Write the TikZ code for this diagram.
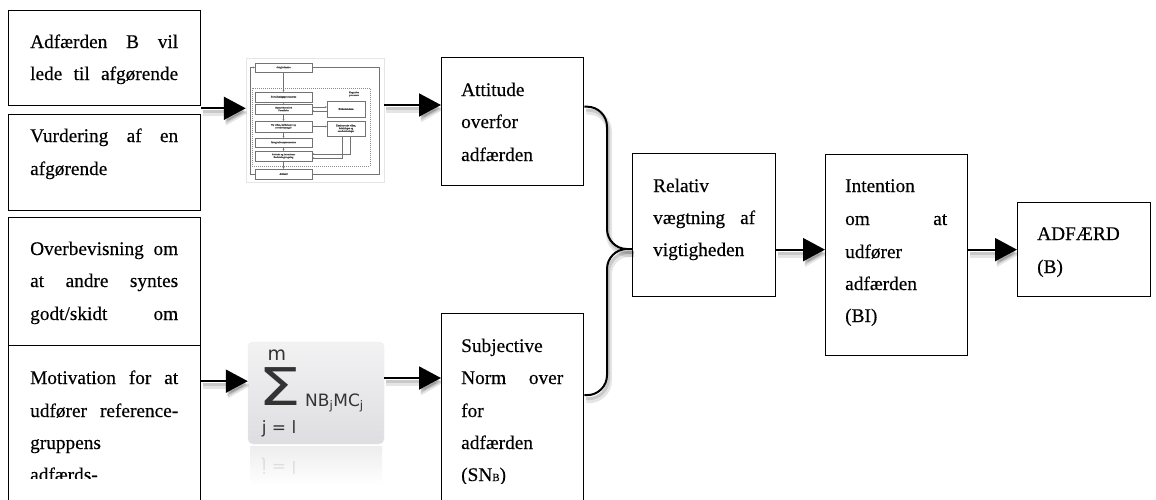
\documentclass[tikz,border=0pt]{standalone}
\usepackage{fontspec}
\setmainfont{Liberation Serif}[FakeBold=0.35]
\newfontfamily\sigmafont{DejaVu Sans}
\usetikzlibrary{arrows.meta,shadows}

\tikzset{
  box/.style={draw=black, line width=1.3pt, inner sep=0pt, anchor=north west},
  txt/.style={anchor=base west, inner sep=0pt, font=\fontsize{19.3}{23}\selectfont},
  conn/.style={line width=2pt,
    preaction={draw=black, opacity=.10, line width=6pt, transform canvas={shift={(2pt,-5pt)}}},
    preaction={draw=black, opacity=.12, line width=3pt, transform canvas={shift={(1.5pt,-3.5pt)}}}},
  arr/.style={conn, -{Triangle[length=22pt,width=23pt]}},
  fb/.style={draw=black!55, line width=.4pt, fill=white, inner sep=0pt, align=center,
    font=\fontsize{2.4}{2.8}\selectfont\bfseries, text=black!70,
    drop shadow={shadow xshift=.8pt, shadow yshift=-.8pt, opacity=.25}},
  fl/.style={draw=black!55, line width=.4pt},
  fa/.style={fl, -{Stealth[length=1.6pt,width=1.6pt]}},
  sg/.style={inner sep=0pt, text=black!80},
}
\newcommand{\jl}[2]{\makebox[#1pt][s]{#2}}

\begin{document}
\begin{tikzpicture}[x=1pt, y=-1pt]
\useasboundingbox (0,0) rectangle (1156,499);
\fill[white] (0,0) rectangle (1156,499);

% ---------- left column of belief boxes ----------
\node[box, minimum width=192pt, minimum height=95pt]  (b1) at (8,10) {};
\node[box, minimum width=192pt, minimum height=96pt]  (b2) at (8,114) {};
\node[box, minimum width=192pt, minimum height=128pt] (b3) at (8,217) {};
\node[box, minimum width=192pt, minimum height=170pt] (b4) at (8,345) {};

\node[txt] (b1l1) at (30,48)  {\jl{148}{Adfærden B vil}};
\node[txt] (b1l2) at (30,80)  {\jl{148}{lede til afgørende}};
\node[txt] (b2l1) at (30,142) {\jl{148}{Vurdering af en}};
\node[txt] (b2l2) at (30,175) {afgørende};
\node[txt] (b3l1) at (30,255) {\jl{148}{Overbevisning om}};
\node[txt] (b3l2) at (30,287) {\jl{148}{at andre syntes}};
\node[txt] (b3l3) at (30,320) {\jl{148}{godt/skidt om}};
\node[txt] (b4l1) at (30,384) {\jl{148}{Motivation for at}};
\node[txt] (b4l2) at (30,417) {\jl{148}{udfører reference-}};
\node[txt] (b4l3) at (30,449) {gruppens};
\begin{scope}
  \clip (10,440) rectangle (198,478);
  \node[txt] (b4l4) at (30,481) {adfærds-};
\end{scope}

% ---------- small process flowchart ----------
\node[draw=black!10, line width=.5pt, fill=white, minimum width=138pt, minimum height=124pt, inner sep=0pt] (flow) at (315,120) {};
\node[draw=black!45, dash pattern=on 1pt off 1pt, line width=.35pt, minimum width=118pt, minimum height=78pt, inner sep=0pt] (kog) at (311,127) {};
\node[inner sep=0pt, align=center, font=\fontsize{2.4}{2.8}\selectfont\bfseries, text=black!70] (kogl) at (354,94) {Kognitive\\processer};

\node[fb, minimum width=57pt, minimum height=9pt]  (f0) at (283.5,67.5) {Omgivelserne};
\node[fb, minimum width=57pt, minimum height=10pt] (f1) at (283.5,97)   {Fortolkningsprocesserne};
\node[fb, minimum width=57pt, minimum height=10pt] (f2) at (283.5,109)  {Opmærksomhed\\Forståelse};
\node[fb, minimum width=57pt, minimum height=11pt] (f3) at (283.5,126.5){Ny viden, holdninger og\\overbevisninger};
\node[fb, minimum width=57pt, minimum height=9pt]  (f4) at (283.5,142.5){Integrationsprocesserne};
\node[fb, minimum width=57pt, minimum height=10pt] (f5) at (283.5,156)  {Attitude og intentioner\\Beslutningstagning};
\node[fb, minimum width=57pt, minimum height=10pt] (f6) at (283.5,174)  {Adfærd};
\node[fb, minimum width=38pt, minimum height=16pt] (h1) at (346,109)    {Hukommelsen};
\node[fb, minimum width=38pt, minimum height=15pt] (h2) at (346,128.5)  {Eksisterende viden,\\holdninger og\\overbevisninger};

\draw[fa] (f0) -- (f1);
\draw[fa] (f1) -- (f2);
\draw[fa] (f2) -- (f3);
\draw[fa] (f3) -- (f4);
\draw[fa] (f4) -- (f5);
\draw[fa] (f5) -- (f6);
\draw[fa] ([yshift=2pt]f2.east) -- ([yshift=2pt]f2.east -| h1.west);
\draw[fa] ([yshift=-2pt]f2.east -| h1.west) -- ([yshift=-2pt]f2.east);
\draw[fa] (f3.east) -- (f3.east -| h2.west);
\draw[fa] ([xshift=-4pt]h2.south) |- ([yshift=-2pt]f5.east);
\draw[fa] ([xshift=4pt]h2.south) |- ([yshift=2pt]f5.east);
\coordinate (lr) at (379,67.5);
\coordinate (ll) at (250,67.5);
\draw[fl] (f6.east) -| (lr) -- (f0.east);
\draw[fa] (f6.west) -| (ll) -- (f0.west);

% ---------- summation picture ----------
\node[rounded corners=5pt, draw=black!8, top color=blue!5!black!5, bottom color=blue!12!black!13,
      minimum width=136pt, minimum height=102pt, inner sep=0pt] (sig) at (316,393) {};
\shade[top color=blue!5!black!7, bottom color=white] (250,446) rectangle (382,485);
\node[sg, xscale=1.3, font=\sigmafont\fontsize{52}{52}\selectfont] (sigma) at (280,387) {Σ};
\node[sg, font=\sigmafont\fontsize{19}{19}\selectfont] (supm) at (277,355) {m};
\node[sg, font=\sigmafont\fontsize{17}{17}\selectfont] (subj) at (279,429) {j = l};
\node[sg, yscale=-1, opacity=.12, font=\sigmafont\fontsize{17}{17}\selectfont] (subjr) at (279,466) {j = l};
\node[sg, anchor=west, font=\sigmafont\fontsize{17}{17}\selectfont] (nbmc) at (305,403) {NB\textsubscript{j}MC\textsubscript{j}};

% ---------- attitude and subjective norm ----------
\node[box, minimum width=142pt, minimum height=128pt] (att) at (441,57) {};
\node[box, minimum width=142pt, minimum height=200pt] (sn)  at (441,313) {};

\node[txt] (attl1) at (461,96)  {Attitude};
\node[txt] (attl2) at (461,128) {overfor};
\node[txt] (attl3) at (461,161) {adfærden};
\node[txt] (snl1)  at (461,352) {Subjective};
\node[txt] (snl2)  at (461,384) {\jl{102}{Norm over}};
\node[txt] (snl3)  at (461,417) {for};
\node[txt] (snl4)  at (461,449) {adfærden};
\begin{scope}
  \clip (443,460) rectangle (581,483);
  \node[txt] (snl5) at (461,481) {(SN{\fontsize{11}{11}\selectfont B})};
\end{scope}

% ---------- weighting, intention, behaviour ----------
\node[box, minimum width=143pt, minimum height=143pt] (rel) at (632,153) {};
\node[box, minimum width=142pt, minimum height=201pt] (int) at (825,154) {};
\node[box, minimum width=133pt, minimum height=94pt]  (adf) at (1017,202) {};

\node[txt] (rell1) at (653,192) {Relativ};
\node[txt] (rell2) at (653,224) {\jl{102}{vægtning af}};
\node[txt] (rell3) at (653,256) {vigtigheden};
\node[txt] (intl1) at (845,192) {Intention};
\node[txt] (intl2) at (845,225) {\jl{102}{om at}};
\node[txt] (intl3) at (845,258) {udfører};
\node[txt] (intl4) at (845,290) {adfærden};
\begin{scope}
  \clip (827,300) rectangle (965,325);
  \node[txt] (intl5) at (845,322) {(BI)};
\end{scope}
\node[txt] (adfl1) at (1037,240) {ADFÆRD};
\node[txt] (adfl2) at (1037,273) {(B)};

% ---------- connectors ----------
\draw[arr] ([yshift=-2pt]b1.south east) coordinate (s1) -- (s1 -| flow.west);
\draw[arr] ([yshift=15pt]flow.east) coordinate (s2) -- (s2 -| att.west);
\draw[arr] ([yshift=49.5pt]b4.east) coordinate (s3) -- (s3 -| sig.west);
\draw[arr] ([yshift=15pt]sig.east) coordinate (s4) -- (s4 -| sn.west);

\coordinate (brace) at (607,249);
\draw[conn, rounded corners=20pt] ([yshift=15pt]att.east) -| (brace) -- (brace -| rel.west);
\draw[conn, rounded corners=20pt] ([yshift=18.5pt]sn.east) -| (brace) -- (brace -| rel.west);

\draw[arr] ([yshift=-24.5pt]rel.east) coordinate (s5) -- (s5 -| int.west);
\draw[arr] (adf.west -| int.east) -- (adf.west);
\end{tikzpicture}
\end{document}
